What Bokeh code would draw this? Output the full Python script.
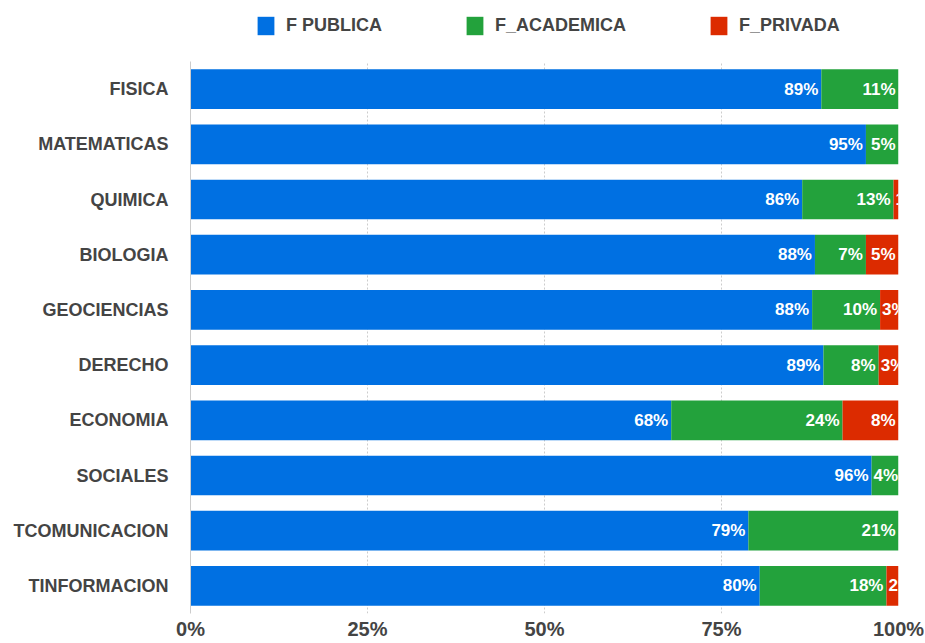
from bokeh.plotting import figure
from bokeh.layouts import column
from bokeh.models import ColumnDataSource, Legend, LegendItem, FactorRange, FixedTicker, CustomJSTickFormatter
from bokeh.core.properties import value
from bokeh.embed import file_html
from bokeh.resources import INLINE

categories = ["FISICA", "MATEMATICAS", "QUIMICA", "BIOLOGIA", "GEOCIENCIAS",
              "DERECHO", "ECONOMIA", "SOCIALES", "TCOMUNICACION", "TINFORMACION"]
f_publica = [89.1, 95.4, 86.4, 88.2, 87.8, 89.4, 67.9, 96.2, 78.8, 80.4]
f_academica = [10.9, 4.6, 12.9, 7.2, 9.6, 7.8, 24.2, 3.8, 21.2, 17.9]
f_privada = [0.0, 0.0, 0.7, 4.6, 2.6, 2.8, 7.9, 0.0, 0.0, 1.7]
series_names = ["F PUBLICA", "F_ACADEMICA", "F_PRIVADA"]
colors = ["#0070E2", "#23A23C", "#DC2B00"]
x_ticks = [0, 25, 50, 75, 100]

FONT = "Liberation Sans"
TEXT_COLOR = "#444444"
W = 924
LEG_H = 59

p = figure(width=W, height=642 - LEG_H, output_backend="svg", toolbar_location=None,
           y_range=FactorRange(factors=list(reversed(categories)), range_padding=0.0),
           x_range=(0, 100),
           min_border_left=190, min_border_right=26, min_border_top=2, min_border_bottom=28)
p.outline_line_color = None
p.background_fill_color = "white"

src = ColumnDataSource(dict(cat=categories, pub=f_publica, aca=f_academica, pri=f_privada))
renderers = p.hbar_stack(["pub", "aca", "pri"], y="cat", height=0.72, color=colors,
                         source=src, line_width=0)

# value labels inside the segments
LABEL_PX = 17
px_per_unit = 708 / 100
lx, ly, lt, la, lo = [], [], [], [], []
for i, c in enumerate(categories):
    start = 0.0
    for v in (f_publica[i], f_academica[i], f_privada[i]):
        end = start + v
        if v > 0:
            txt = f"{v:.0f}%"
            tw = sum((0.889 if ch == "%" else 0.556) * LABEL_PX for ch in txt)
            if v * px_per_unit < tw + 6:
                lx.append(start); la.append("left"); lo.append(2)
            else:
                lx.append(end); la.append("right"); lo.append(-3)
            ly.append(c); lt.append(txt)
        start = end
lsrc = ColumnDataSource(dict(x=lx, y=ly, t=lt, a=la, o=lo))
p.text(x="x", y="y", text="t", text_align="a", x_offset="o", source=lsrc,
       text_baseline="middle", text_color="white", text_font=value(FONT),
       text_font_style="bold", text_font_size=f"{LABEL_PX}px")

# axes
p.xaxis.ticker = FixedTicker(ticks=x_ticks)
p.xaxis.formatter = CustomJSTickFormatter(code="return tick + '%';")
p.xaxis.axis_line_color = None
p.xaxis.major_tick_line_color = None
p.xaxis.minor_tick_line_color = None
p.xaxis.major_tick_out = 0
p.xaxis.major_tick_in = 0
p.xaxis.major_label_standoff = 4
p.xaxis.major_label_text_font = FONT
p.xaxis.major_label_text_font_style = "bold"
p.xaxis.major_label_text_font_size = "20px"
p.xaxis.major_label_text_color = TEXT_COLOR

p.yaxis.axis_line_color = "#CCCCCC"
p.yaxis.major_tick_line_color = None
p.yaxis.minor_tick_line_color = None
p.yaxis.major_tick_out = 0
p.yaxis.major_tick_in = 0
p.yaxis.major_label_standoff = 22
p.yaxis.major_label_text_font = FONT
p.yaxis.major_label_text_font_style = "bold"
p.yaxis.major_label_text_font_size = "18px"
p.yaxis.major_label_text_color = TEXT_COLOR

p.ygrid.grid_line_color = None
p.xgrid.ticker = FixedTicker(ticks=[25, 50, 75, 100])
p.xgrid.grid_line_color = "#CCCCCC"
p.xgrid.grid_line_dash = "2 2"

# legend strip above the chart (its frame is aligned with the chart's frame)
pl = figure(width=W, height=LEG_H, output_backend="svg", toolbar_location=None,
            x_range=(0, 1), y_range=(0, 1), x_axis_type=None, y_axis_type=None,
            min_border=0)
pl.outline_line_color = None
pl.grid.visible = False
nan = float("nan")
leg_renderers = [pl.hbar(y=[nan], left=[nan], right=[nan], height=0.1, color=c, line_width=0)
                 for c in colors]
legend = Legend(items=[LegendItem(label=n, renderers=[r]) for n, r in zip(series_names, leg_renderers)],
                orientation="horizontal", location=(65, 22),
                glyph_width=21, glyph_height=23, label_height=23,
                label_text_font=FONT, label_text_font_style="bold",
                label_text_font_size="18px", label_text_color=TEXT_COLOR,
                spacing=82, label_standoff=10, padding=0, margin=0,
                border_line_alpha=0, background_fill_alpha=0)
pl.add_layout(legend)

layout = column(pl, p, spacing=0)
open("out.html", "w").write(file_html(layout, INLINE))
